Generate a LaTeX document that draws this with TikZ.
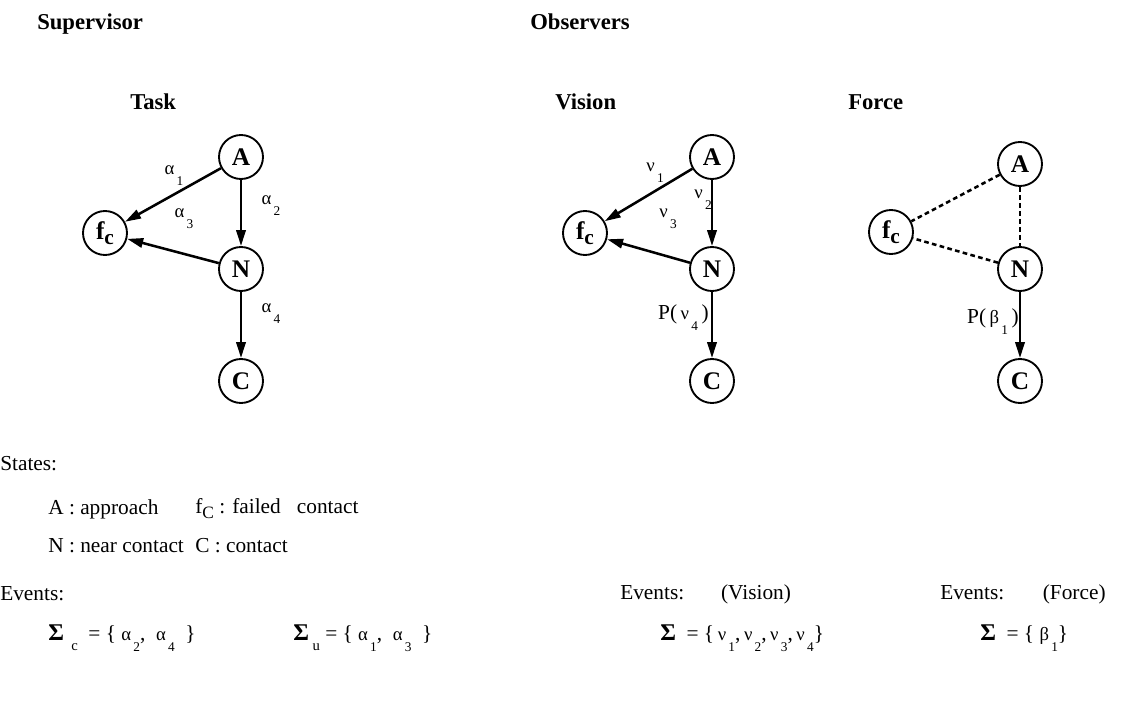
\documentclass[tikz,border=0pt]{standalone}
\usepackage{fontspec}
\setmainfont{Liberation Serif}
\usetikzlibrary{arrows.meta,positioning}
\newcommand{\ev}[2]{{\fontsize{14}{14}\selectfont#1\raisebox{-1.3ex}{\fontsize{10}{10}\selectfont\,#2}}}
\newcommand{\fcst}{f\raisebox{-0.45ex}{\fontsize{16}{16}\selectfont c}}
\newcommand{\sig}{\textbf{\fontsize{18}{18}\selectfont Σ}}

\begin{document}
\begin{tikzpicture}[x=0.75pt,y=-0.75pt,
    state/.style={circle, draw, line width=1.4pt, minimum size=33pt, inner sep=0pt, font=\bfseries\fontsize{19}{19}\selectfont},
    trans/.style={-{Triangle[length=12pt,width=7pt]}, line width=1.9pt},
    obs/.style={line width=1.9pt, dash pattern=on 3.5pt off 2.5pt},
    lbl/.style={inner sep=0pt},
    head/.style={anchor=base west, inner sep=0pt, font=\bfseries\fontsize{17}{17}\selectfont},
    txt/.style={anchor=west, inner sep=0pt, font=\fontsize{16}{16}\selectfont}
]
    \useasboundingbox (0,0) rectangle (1133,713);

    % Headings
    \node[head] (hsup) at (37,30) {Supervisor};
    \node[head] (hobs) at (530,30) {Observers};
    \node[head] (htask) at (130,110) {Task};
    \node[head] (hvis) at (555,110) {Vision};
    \node[head] (hfor) at (848,110) {Force};

    % Task automaton
    \node[state] (tA) at (241,157) {A};
    \node[state] (tF) at (105,233) {\fcst};
    \node[state] (tN) at (241,269) {N};
    \node[state] (tC) at (241,381) {C};
    \draw[trans] (tA) -- (tF);
    \draw[trans] (tA) -- (tN);
    \draw[trans] (tN) -- (tF);
    \draw[trans] (tN) -- (tC);
    \node[lbl] (ta1) at (174,176) {\ev{α}{1}};
    \node[lbl] (ta2) at (271,206) {\ev{α}{2}};
    \node[lbl] (ta3) at (184,219) {\ev{α}{3}};
    \node[lbl] (ta4) at (271,314) {\ev{α}{4}};

    % Vision observer
    \node[state] (vA) at (712,157) {A};
    \node[state] (vF) at (585,233) {\fcst};
    \node[state] (vN) at (712,269) {N};
    \node[state] (vC) at (712,381) {C};
    \draw[trans] (vA) -- (vF);
    \draw[trans] (vA) -- (vN);
    \draw[trans] (vN) -- (vF);
    \draw[trans] (vN) -- (vC);
    \node[lbl] (vn1) at (655,173) {\ev{ν}{1}};
    \node[lbl] (vn2) at (703,200) {\ev{ν}{2}};
    \node[lbl] (vn3) at (668,219) {\ev{ν}{3}};
    \node[lbl, anchor=east, font=\fontsize{16}{16}\selectfont] (vn4) at (709,318) {P(\,\ev{ν}{4}\,)};

    % Force observer
    \node[state] (fA) at (1020,164) {A};
    \node[state] (fF) at (891,232) {\fcst};
    \node[state] (fN) at (1020,269) {N};
    \node[state] (fC) at (1020,381) {C};
    \draw[obs] (fA) -- (fF);
    \draw[obs] (fA) -- (fN);
    \draw[obs] (fN) -- (fF);
    \draw[trans] (fN) -- (fC);
    \node[lbl, anchor=east, font=\fontsize{16}{16}\selectfont] (fb1) at (1019,322) {P(\,\ev{β}{1}\,)};

    % States
    \node[txt] (sts) at (0,464) {States:};
    \node[txt] (stA) at (48,509) {A : approach};
    \node[txt] (stF) at (195,509) {f\raisebox{-0.5ex}{\fontsize{13}{13}\selectfont C} : failed\ \ \ contact};
    \node[txt] (stN) at (48,546) {N : near contact};
    \node[txt] (stC) at (195,546) {C : contact};

    % Events
    \node[txt] (evs) at (0,594) {Events:};
    \node[txt] (evc) at (48,638) {\sig\raisebox{-1ex}{\fontsize{11}{11}\selectfont\ \ c}\ \ = \{\ \ev{α}{2},\ \ \ev{α}{4}\ \ \}};
    \node[txt] (evu) at (293,638) {\sig\raisebox{-1ex}{\fontsize{11}{11}\selectfont\ u}\ = \{\ \ev{α}{1},\ \ \ev{α}{3}\ \ \}};
    \node[txt] (evv) at (620,594) {\makebox[128pt][l]{Events:\hfill(Vision)}};
    \node[txt] (evvs) at (660,638) {\sig\ \ = \{\,\ev{ν}{1},\,\ev{ν}{2},\,\ev{ν}{3},\,\ev{ν}{4}\}};
    \node[txt] (evf) at (940,594) {\makebox[124pt][l]{Events:\hfill(Force)}};
    \node[txt] (evfs) at (980,638) {\sig\ \ = \{ \ev{β}{1}\}};
\end{tikzpicture}
\end{document}
